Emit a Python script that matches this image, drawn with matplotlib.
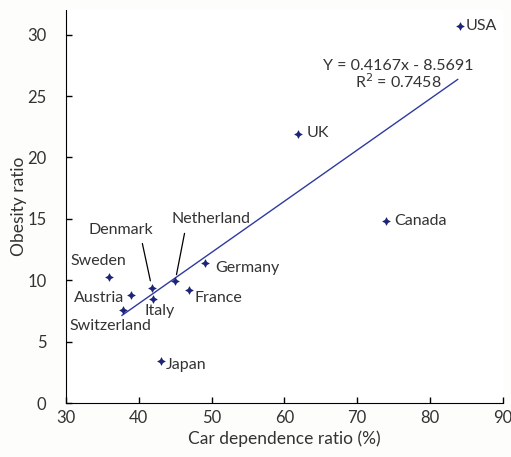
import numpy as np
import matplotlib.pyplot as plt

plt.rcParams['font.family'] = ['Lato', 'DejaVu Sans']

# data
countries = ['USA', 'UK', 'Canada', 'Germany', 'Netherland', 'France',
             'Denmark', 'Italy', 'Austria', 'Sweden', 'Switzerland', 'Japan']
car_dep = [84.1, 61.9, 73.9, 49.1, 45.0, 46.9, 41.8, 41.9, 38.9, 35.9, 37.8, 43.0]
obesity = [30.7, 21.9, 14.8, 11.4, 9.9, 9.2, 9.4, 8.5, 8.8, 10.3, 7.6, 3.4]
slope, intercept, r2 = 0.4167, -8.5691, 0.7458

# label offsets in pixels: (dx, dy, ha)
offsets = {
    'USA': (6, 0, 'left'), 'UK': (8, 1, 'left'), 'Canada': (9, 0, 'left'),
    'Germany': (10, -5, 'left'), 'France': (6, -8, 'left'),
    'Italy': (7, -12, 'center'), 'Austria': (-7, -3, 'right'),
    'Sweden': (-11, 16, 'center'), 'Switzerland': (-12, -16, 'center'),
    'Japan': (5, -4, 'left'),
}
leaders = {'Denmark': (-31, 58, (0.81, 0)), 'Netherland': (36, 62, (0.18, 0))}

txt = '#333333'
fs = 11.5
fig = plt.figure(figsize=(5.11, 4.57), dpi=100)
ax = fig.add_axes([0.129, 0.118, 0.855, 0.86])

ax.scatter(car_dep, obesity, marker=(4, 1, 0), s=40, color='#1c2578', zorder=3, linewidths=0)

xs = np.array([min(car_dep) + 1.8, max(car_dep) - 0.3])
ax.plot(xs, slope * xs + intercept, color='#2f3a9e', lw=1)

for name, x, y in zip(countries, car_dep, obesity):
    if name in offsets:
        dx, dy, ha = offsets[name]
        ax.annotate(name, (x, y), xytext=(dx, dy), textcoords='offset pixels',
                    ha=ha, va='center', fontsize=fs, color=txt)
    else:
        dx, dy, rp = leaders[name]
        ax.annotate(name, (x, y), xytext=(dx, dy), textcoords='offset pixels',
                    ha='center', va='center', fontsize=fs, color=txt,
                    arrowprops=dict(arrowstyle='-', color='black', lw=0.9,
                                    relpos=rp, shrinkA=3, shrinkB=5))

ax.text(0.76, 0.835, f'Y = {slope}x - {abs(intercept)}\nR$^2$ = {r2}',
        transform=ax.transAxes, ha='center', va='center', fontsize=fs,
        color=txt, linespacing=1.0)

ax.set_xlim(30, 90)
ax.set_ylim(0, 32)
ax.set_xticks(range(30, 91, 10))
ax.set_yticks(range(0, 31, 5))
ax.tick_params(direction='in', length=4, labelsize=12, labelcolor=txt, width=1)
ax.tick_params(axis='y', pad=14)
ax.tick_params(axis='x', pad=5)
ax.spines['top'].set_visible(False)
ax.spines['right'].set_visible(False)
ax.set_xlabel('Car dependence ratio (%)', fontsize=12.5, color=txt, labelpad=3)
ax.set_ylabel('Obesity ratio', fontsize=12.5, color=txt, labelpad=0)

fig.savefig('out.png', dpi=100, facecolor='#fdfdfb')
